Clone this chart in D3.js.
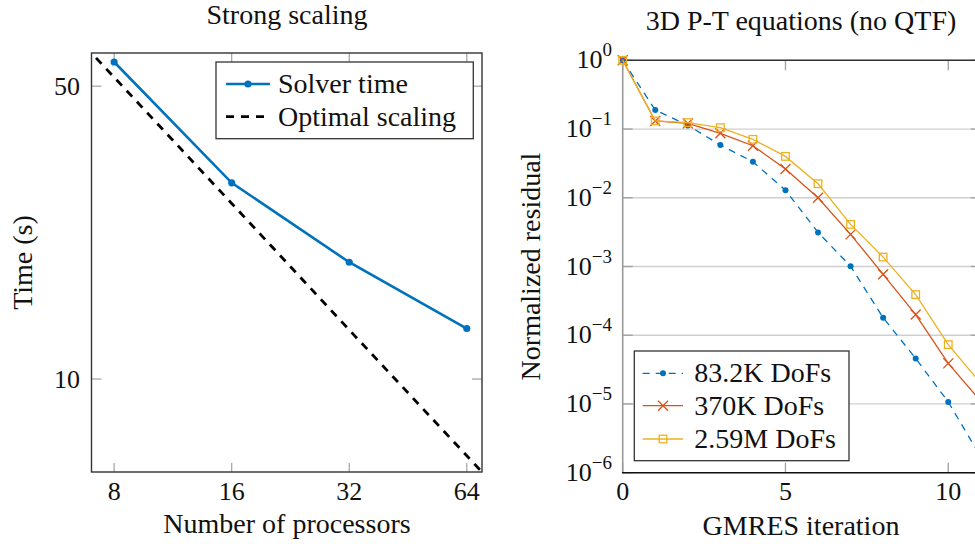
<!DOCTYPE html>
<html>
<head>
<meta charset="utf-8">
<script src="https://cdn.jsdelivr.net/npm/d3@7.9.0/dist/d3.min.js"></script>
<style>
  body { margin: 0; background: #fff; }
  svg { display: block; }
  text { font-family: "Liberation Serif", serif; fill: #111; }
</style>
</head>
<body>
<svg id="chart" width="975" height="544"></svg>
<script>
// left panel: strong scaling
const procs = [8, 16, 32, 64];
const solverTime = [57.1, 29.4, 19.0, 13.2];
const optimalProcs = [6, 8, 16, 32, 64, 72];
const optimalTime = [70, 52.5, 26.25, 13.1, 6.56, 5.83];
const procTicks = [8, 16, 32, 64];
const timeTicks = [10, 50];

// right panel: GMRES convergence
const iters = [0, 1, 2, 3, 4, 5, 6, 7, 8, 9, 10, 11];
const res83k = [1, 0.189, 0.113, 0.0585, 0.0334, 0.0129, 0.00313, 0.00101, 1.8e-4, 4.6e-5, 1.07e-5, 1.7e-6];
const res370k = [1, 0.131, 0.121, 0.0866, 0.0572, 0.0262, 0.0100, 0.00293, 7.7e-4, 2.0e-4, 3.9e-5, 1.1e-5];
const res259m = [1, 0.131, 0.124, 0.1045, 0.0708, 0.040, 0.016, 0.0041, 1.37e-3, 3.9e-4, 7.3e-5, 2.0e-5];
const iterTicks = [0, 5, 10];
const resTicks = [0, -1, -2, -3, -4, -5, -6];

const svg = d3.select('#chart');
const FS = 26;   // tick labels
const LS = 28;   // titles, axis labels, legend
const tickGray = '#a0a0a0';
const frameCol = '#333';

// ---------- left ----------
const xL = d3.scaleLog().base(2).domain([7, 70]).range([91.5, 482]);
const yL = d3.scaleLog().domain([6, 60]).range([472, 53]);
const gL = svg.append('g');

gL.append('clipPath').attr('id', 'clipL').append('rect')
  .attr('x', 91.5).attr('y', 53).attr('width', 390.5).attr('height', 419);

procTicks.forEach(p => {
  gL.append('line').attr('x1', xL(p)).attr('x2', xL(p)).attr('y1', 472).attr('y2', 463)
    .attr('stroke', tickGray).attr('stroke-width', 1.2);
  gL.append('line').attr('x1', xL(p)).attr('x2', xL(p)).attr('y1', 53).attr('y2', 62)
    .attr('stroke', tickGray).attr('stroke-width', 1.2);
  gL.append('text').attr('x', xL(p)).attr('y', 500).attr('text-anchor', 'middle')
    .style('font-size', FS + 'px').text(p);
});
timeTicks.forEach(t => {
  gL.append('line').attr('x1', 91.5).attr('x2', 101.5).attr('y1', yL(t)).attr('y2', yL(t))
    .attr('stroke', tickGray).attr('stroke-width', 1.2);
  gL.append('line').attr('x1', 482).attr('x2', 472).attr('y1', yL(t)).attr('y2', yL(t))
    .attr('stroke', tickGray).attr('stroke-width', 1.2);
  gL.append('text').attr('x', 80).attr('y', yL(t) + 9).attr('text-anchor', 'end')
    .style('font-size', FS + 'px').text(t);
});

const lineL = d3.line().x(d => xL(d[0])).y(d => yL(d[1]));
gL.append('path').datum(d3.zip(optimalProcs, optimalTime)).attr('d', lineL)
  .attr('clip-path', 'url(#clipL)')
  .attr('fill', 'none').attr('stroke', '#000').attr('stroke-width', 2.8)
  .attr('stroke-dasharray', '8,7');
gL.append('path').datum(d3.zip(procs, solverTime)).attr('d', lineL)
  .attr('fill', 'none').attr('stroke', '#0072BD').attr('stroke-width', 2.6);
gL.selectAll('circle.st').data(d3.zip(procs, solverTime)).join('circle')
  .attr('cx', d => xL(d[0])).attr('cy', d => yL(d[1])).attr('r', 3.6).attr('fill', '#0072BD');

gL.append('rect').attr('x', 91.5).attr('y', 53).attr('width', 390.5).attr('height', 419)
  .attr('fill', 'none').attr('stroke', frameCol).attr('stroke-width', 1.4);

gL.append('text').attr('x', 287).attr('y', 24).attr('text-anchor', 'middle')
  .style('font-size', LS + 'px').text('Strong scaling');
gL.append('text').attr('x', 287).attr('y', 533).attr('text-anchor', 'middle')
  .style('font-size', LS + 'px').text('Number of processors');
gL.append('text').attr('transform', 'translate(32,262.5) rotate(-90)').attr('text-anchor', 'middle')
  .style('font-size', LS + 'px').text('Time (s)');

// legend left
const legL = gL.append('g');
legL.append('rect').attr('x', 216).attr('y', 62).attr('width', 257.3).attr('height', 76.7)
  .attr('fill', '#fff').attr('stroke', frameCol).attr('stroke-width', 1.3);
legL.append('line').attr('x1', 226).attr('x2', 270).attr('y1', 84).attr('y2', 84)
  .attr('stroke', '#0072BD').attr('stroke-width', 2.6);
legL.append('circle').attr('cx', 248).attr('cy', 84).attr('r', 3.6).attr('fill', '#0072BD');
legL.append('line').attr('x1', 226).attr('x2', 270).attr('y1', 116.7).attr('y2', 116.7)
  .attr('stroke', '#000').attr('stroke-width', 2.8).attr('stroke-dasharray', '8,7');
legL.append('text').attr('x', 278).attr('y', 93).style('font-size', LS + 'px').text('Solver time');
legL.append('text').attr('x', 278).attr('y', 125.5).style('font-size', LS + 'px').text('Optimal scaling');

// ---------- right ----------
const xR = d3.scaleLinear().domain([0, 11]).range([622.7, 980.8]);
const yR = d3.scaleLog().domain([1e-6, 1]).range([472.7, 60.3]);
const gR = svg.append('g');

resTicks.forEach(e => {
  const y = yR(Math.pow(10, e));
  gR.append('line').attr('x1', 622.7).attr('x2', 980.8).attr('y1', y).attr('y2', y)
    .attr('stroke', '#cfcfcf').attr('stroke-width', 1.3);
  gR.append('line').attr('x1', 622.7).attr('x2', 632.7).attr('y1', y).attr('y2', y)
    .attr('stroke', tickGray).attr('stroke-width', 1.3);
  gR.append('line').attr('x1', 980.8).attr('x2', 970.8).attr('y1', y).attr('y2', y)
    .attr('stroke', tickGray).attr('stroke-width', 1.3);
  const t = gR.append('text').attr('x', 612).attr('y', y + 8).attr('text-anchor', 'end')
    .style('font-size', FS + 'px');
  t.append('tspan').text('10');
  t.append('tspan').attr('dy', -12).style('font-size', '19px').text(e === 0 ? '0' : '\u2212' + (-e));
});
iterTicks.forEach(i => {
  gR.append('line').attr('x1', xR(i)).attr('x2', xR(i)).attr('y1', 472.7).attr('y2', 462.7)
    .attr('stroke', tickGray).attr('stroke-width', 1.3);
  gR.append('line').attr('x1', xR(i)).attr('x2', xR(i)).attr('y1', 60.3).attr('y2', 70.3)
    .attr('stroke', tickGray).attr('stroke-width', 1.3);
  gR.append('text').attr('x', xR(i)).attr('y', 500).attr('text-anchor', 'middle')
    .style('font-size', FS + 'px').text(i);
});

// frame
gR.append('line').attr('x1', 622.7).attr('x2', 622.7).attr('y1', 60.3).attr('y2', 472.7)
  .attr('stroke', '#999').attr('stroke-width', 1.6);
gR.append('line').attr('x1', 622).attr('x2', 981).attr('y1', 472.7).attr('y2', 472.7)
  .attr('stroke', '#111').attr('stroke-width', 1.5);
gR.append('line').attr('x1', 622).attr('x2', 981).attr('y1', 60.3).attr('y2', 60.3)
  .attr('stroke', '#333').attr('stroke-width', 1.5);

const lineR = d3.line().x(d => xR(d[0])).y(d => yR(d[1]));
const series = [
  { vals: res83k, color: '#0072BD', dash: '7,6', marker: 'dot', label: '83.2K DoFs' },
  { vals: res370k, color: '#D95319', dash: null, marker: 'x', label: '370K DoFs' },
  { vals: res259m, color: '#EDB120', dash: null, marker: 'sq', label: '2.59M DoFs' }
];

function drawMarker(g, kind, cx, cy, color) {
  if (kind === 'dot') {
    g.append('circle').attr('cx', cx).attr('cy', cy).attr('r', 3).attr('fill', color);
  } else if (kind === 'x') {
    const s = 5;
    g.append('path').attr('d', `M${cx - s},${cy - s}L${cx + s},${cy + s}M${cx - s},${cy + s}L${cx + s},${cy - s}`)
      .attr('stroke', color).attr('stroke-width', 1.3).attr('fill', 'none');
  } else {
    const s = 3.8;
    g.append('rect').attr('x', cx - s).attr('y', cy - s).attr('width', 2 * s).attr('height', 2 * s)
      .attr('stroke', color).attr('stroke-width', 1.3).attr('fill', 'none');
  }
}

series.forEach(s => {
  const data = d3.zip(iters, s.vals);
  const p = gR.append('path').datum(data).attr('d', lineR)
    .attr('fill', 'none').attr('stroke', s.color).attr('stroke-width', 1.3);
  if (s.dash) p.attr('stroke-dasharray', s.dash);
  data.forEach(d => drawMarker(gR, s.marker, xR(d[0]), yR(d[1]), s.color));
});

gR.append('text').attr('x', 801).attr('y', 30).attr('text-anchor', 'middle')
  .style('font-size', LS + 'px').text('3D P-T equations (no QTF)');
gR.append('text').attr('x', 801).attr('y', 535).attr('text-anchor', 'middle')
  .style('font-size', LS + 'px').text('GMRES iteration');
gR.append('text').attr('transform', 'translate(540,266.5) rotate(-90)').attr('text-anchor', 'middle')
  .style('font-size', LS + 'px').text('Normalized residual');

// legend right
const legR = gR.append('g');
legR.append('rect').attr('x', 634.3).attr('y', 351).attr('width', 214.7).attr('height', 109.7)
  .attr('fill', '#fff').attr('stroke', frameCol).attr('stroke-width', 1.3);
const legY = [373.3, 405.7, 439];
series.forEach((s, i) => {
  const l = legR.append('line').attr('x1', 642.7).attr('x2', 683).attr('y1', legY[i]).attr('y2', legY[i])
    .attr('stroke', s.color).attr('stroke-width', 1.3);
  if (s.dash) l.attr('stroke-dasharray', s.dash);
  drawMarker(legR, s.marker, 663, legY[i], s.color);
  legR.append('text').attr('x', 694.3).attr('y', legY[i] + 9).style('font-size', LS + 'px').text(s.label);
});
</script>
</body>
</html>
